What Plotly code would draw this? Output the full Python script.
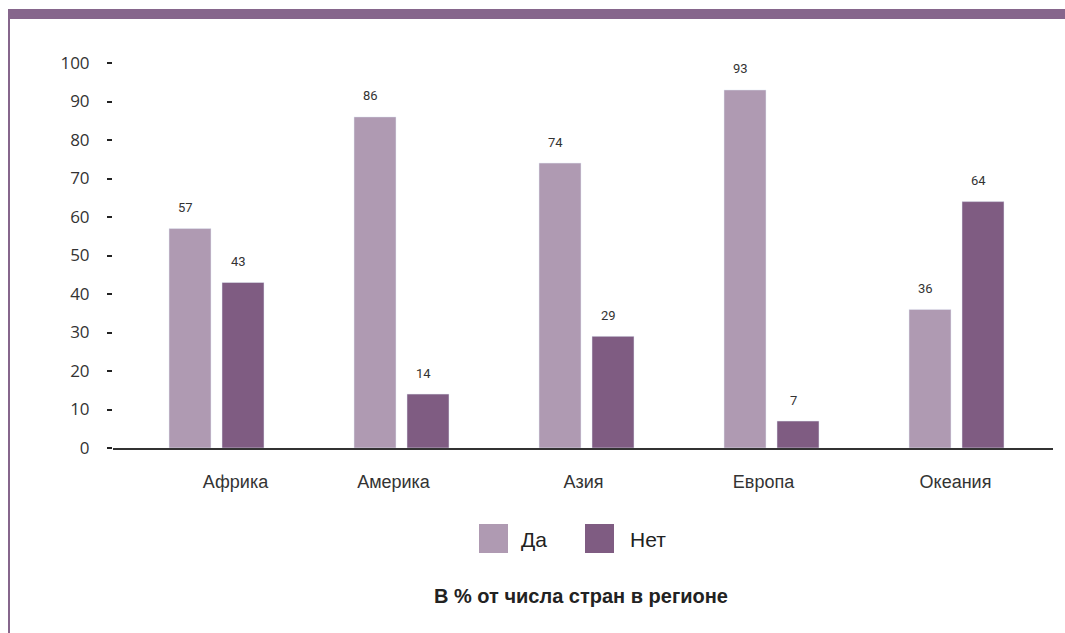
import plotly.graph_objects as go

# Regions and the share of countries (%) answering "Да" / "Нет"
regions = ["Африка", "Америка", "Азия", "Европа", "Океания"]
yes_values = [57, 86, 74, 93, 36]
no_values = [43, 14, 29, 7, 64]
y_ticks = [0, 10, 20, 30, 40, 50, 60, 70, 80, 90, 100]

COLOR_YES = "#AF9AB2"
COLOR_NO = "#7F5C82"
FRAME = "#86668C"

W, H = 1065, 633
L, R, T, B = 113, 12, 63, 185
plot_w = W - L - R
plot_h = H - T - B
cat_px = 185.0                  # pixel distance between category centres
unit = 1.0 / cat_px             # category units per pixel
bar_w = 42 * unit
x0 = -(216.5 - L) * unit
x1 = x0 + plot_w * unit

# horizontal nudge (px) of each region name relative to its bar pair
label_nudge_px = [19, -8, -3, -8, -1]

xs = list(range(len(regions)))


def py(px):
    """Pixel row from the top of the page -> paper y coordinate."""
    return (H - B - px) / plot_h


def px_(px):
    """Pixel column from the left of the page -> paper x coordinate."""
    return (px - L) / plot_w


fig = go.Figure()
fig.add_trace(go.Bar(
    x=xs, y=yes_values, name="Да", marker_color=COLOR_YES,
    width=bar_w, offset=-47.5 * unit, showlegend=False,
))
fig.add_trace(go.Bar(
    x=xs, y=no_values, name="Нет", marker_color=COLOR_NO,
    width=bar_w, offset=5.5 * unit, showlegend=False,
))

# value labels above each bar
for i in xs:
    for val, dx in ((yes_values[i], -26.5), (no_values[i], 26.5)):
        fig.add_annotation(
            x=i + dx * unit, y=val, text=str(val), showarrow=False,
            xref="x", yref="y", yshift=21, xshift=-5,
            font=dict(family="Roboto", size=13, color="#333333"),
        )

# legend drawn as swatches with text
legend_items = [("Да", COLOR_YES, 479, 519), ("Нет", COLOR_NO, 585, 628)]
for label, color, sx, tx in legend_items:
    fig.add_shape(type="rect", xref="paper", yref="paper",
                  x0=px_(sx), x1=px_(sx + 29), y0=py(553), y1=py(524),
                  fillcolor=color, line_width=0)
    fig.add_annotation(xref="paper", yref="paper", x=px_(tx), y=py(539),
                       xanchor="left", yanchor="middle", text=label, showarrow=False,
                       font=dict(family="Liberation Sans", size=21, color="#222222"))

# caption
fig.add_annotation(xref="paper", yref="paper", x=px_(581), y=py(596),
                   xanchor="center", yanchor="middle", showarrow=False,
                   text="<b>В % от числа стран в регионе</b>",
                   font=dict(family="Liberation Sans", size=20, color="#222222"))

# purple header band and left frame line
fig.add_shape(type="rect", xref="paper", yref="paper",
              x0=px_(8), x1=px_(W), y0=py(19), y1=py(9),
              fillcolor=FRAME, line_width=0, layer="below")
fig.add_shape(type="line", xref="paper", yref="paper",
              x0=px_(9), x1=px_(9), y0=py(19), y1=py(H),
              line=dict(color=FRAME, width=2), layer="below")

fig.update_layout(
    width=W, height=H,
    margin=dict(l=L, r=R, t=T, b=B, pad=0),
    plot_bgcolor="white", paper_bgcolor="white",
    barmode="overlay",
    xaxis=dict(
        range=[x0, x1], tickmode="array",
        tickvals=[i + n * unit for i, n in zip(xs, label_nudge_px)],
        ticktext=regions,
        showgrid=False, zeroline=False, showline=True,
        linecolor="#333333", linewidth=2, ticks="",
        ticklabelstandoff=16,
        tickfont=dict(family="Liberation Sans", size=18, color="#333333"),
    ),
    yaxis=dict(
        range=[0, 100], tickmode="array", tickvals=y_ticks,
        showgrid=False, zeroline=False, showline=False,
        ticks="outside", ticklen=5, tickwidth=2, tickcolor="#222222",
        ticklabelstandoff=14,
        tickfont=dict(family="Open Sans", size=17, color="#333333"),
    ),
)

fig.write_html("out.html")
